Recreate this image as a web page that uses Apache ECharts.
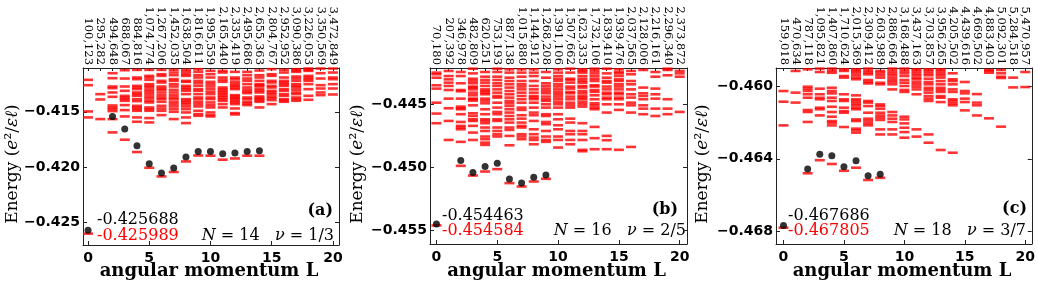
<!DOCTYPE html>
<html><head><meta charset="utf-8">
<script src="https://cdn.jsdelivr.net/npm/echarts@6/dist/echarts.min.js"></script>
<style>html,body{margin:0;padding:0;background:#fff}#c{width:1038px;height:290px}</style>
</head><body><div id="c"></div>
<script>
// ---------- DATA ----------
const L_TICKS = [0, 5, 10, 15, 20];
const L_ALL = [0,1,2,3,4,5,6,7,8,9,10,11,12,13,14,15,16,17,18,19,20];

const dimsA = ['100,123','295,282','494,648','688,067','884,816','1,074,774','1,267,206','1,452,035','1,638,504','1,816,611','1,995,559','2,165,440','2,335,419','2,495,686','2,655,363','2,804,767','2,952,952','3,090,386','3,226,053','3,350,569','3,472,849'];
const dimsB = ['70,180','207,392','346,978','482,809','620,251','753,193','887,138','1,015,880','1,144,912','1,268,208','1,391,106','1,507,662','1,623,335','1,732,106','1,839,410','1,939,476','2,037,565','2,128,006','2,216,161','2,296,340','2,373,872'];
const dimsC = ['159,018','470,634','787,118','1,095,821','1,407,860','1,710,624','2,015,369','2,309,412','2,603,989','2,886,664','3,168,488','3,437,163','3,703,857','3,956,265','4,205,502','4,439,616','4,669,502','4,883,403','5,092,301','5,284,518','5,470,957'];

const yTicksA = [-0.425, -0.420, -0.415];
const yTicksB = [-0.455, -0.450, -0.445];
const yTicksC = [-0.468, -0.464, -0.460];

// exact-diagonalization spectrum (red dashes), indexed by L
const specA = [
 [-0.41212,-0.41260,-0.41497,-0.41551,-0.425989],
 [-0.41341,-0.41389,-0.41566],
 [-0.41152,-0.41197,-0.41272,-0.41287,-0.41326,-0.41365,-0.41443,-0.41461,-0.41476,-0.41494,-0.41566,-0.41686],
 [-0.41125,-0.41200,-0.41272,-0.41311,-0.41356,-0.41371,-0.41386,-0.41401,-0.41440,-0.41485,-0.41542,-0.41752],
 [-0.41122,-0.41191,-0.41206,-0.41266,-0.41281,-0.41296,-0.41326,-0.41341,-0.41356,-0.41386,-0.41404,-0.41446,-0.41461,-0.41476,-0.41491,-0.41551,-0.41590,-0.41863],
 [-0.41122,-0.41176,-0.41191,-0.41212,-0.41251,-0.41266,-0.41281,-0.41302,-0.41320,-0.41341,-0.41362,-0.41380,-0.41401,-0.41416,-0.41461,-0.41476,-0.41491,-0.41557,-0.41596,-0.42005],
 [-0.41122,-0.41161,-0.41176,-0.41221,-0.41236,-0.41272,-0.41290,-0.41302,-0.41326,-0.41350,-0.41371,-0.41386,-0.41410,-0.41446,-0.41470,-0.41491,-0.41530,-0.42083],
 [-0.41122,-0.41146,-0.41170,-0.41206,-0.41221,-0.41251,-0.41272,-0.41302,-0.41326,-0.41350,-0.41371,-0.41386,-0.41410,-0.41431,-0.41452,-0.41476,-0.41500,-0.41566,-0.42043],
 [-0.41122,-0.41140,-0.41161,-0.41176,-0.41221,-0.41230,-0.41266,-0.41281,-0.41296,-0.41311,-0.41341,-0.41386,-0.41401,-0.41416,-0.41431,-0.41452,-0.41476,-0.41506,-0.41551,-0.41602,-0.41948],
 [-0.41116,-0.41140,-0.41170,-0.41191,-0.41221,-0.41242,-0.41266,-0.41296,-0.41311,-0.41341,-0.41371,-0.41386,-0.41410,-0.41431,-0.41452,-0.41491,-0.41521,-0.41536,-0.41894],
 [-0.41131,-0.41161,-0.41191,-0.41230,-0.41251,-0.41272,-0.41296,-0.41320,-0.41341,-0.41371,-0.41386,-0.41416,-0.41440,-0.41461,-0.41506,-0.41530,-0.41542,-0.41896],
 [-0.41131,-0.41146,-0.41191,-0.41212,-0.41230,-0.41281,-0.41296,-0.41311,-0.41326,-0.41341,-0.41356,-0.41371,-0.41386,-0.41401,-0.41431,-0.41461,-0.41932],
 [-0.41140,-0.41191,-0.41206,-0.41230,-0.41251,-0.41266,-0.41281,-0.41296,-0.41350,-0.41362,-0.41374,-0.41386,-0.41401,-0.41416,-0.41431,-0.41470,-0.41512,-0.41524,-0.41921],
 [-0.41140,-0.41170,-0.41200,-0.41221,-0.41251,-0.41281,-0.41302,-0.41320,-0.41332,-0.41371,-0.41386,-0.41410,-0.41425,-0.41440,-0.41896],
 [-0.41128,-0.41170,-0.41191,-0.41221,-0.41251,-0.41260,-0.41272,-0.41296,-0.41311,-0.41326,-0.41362,-0.41374,-0.41386,-0.41398,-0.41410,-0.41461,-0.41896],
 [-0.41116,-0.41161,-0.41176,-0.41221,-0.41236,-0.41266,-0.41281,-0.41311,-0.41326,-0.41341,-0.41362,-0.41377,-0.41395,-0.41431],
 [-0.41122,-0.41146,-0.41191,-0.41221,-0.41236,-0.41251,-0.41266,-0.41296,-0.41311,-0.41341,-0.41356,-0.41386,-0.41398,-0.41410],
 [-0.41116,-0.41128,-0.41140,-0.41182,-0.41200,-0.41221,-0.41251,-0.41266,-0.41281,-0.41302,-0.41326,-0.41341,-0.41371,-0.41386,-0.41401],
 [-0.41110,-0.41122,-0.41131,-0.41176,-0.41191,-0.41206,-0.41221,-0.41251,-0.41296,-0.41356,-0.41392],
 [-0.41110,-0.41152,-0.41200,-0.41260,-0.41290,-0.41326,-0.41350],
 [-0.41110,-0.41146,-0.41191,-0.41206,-0.41251,-0.41290,-0.41344]
];
const specB = [
 [-0.44253,-0.44266,-0.44293,-0.44353,-0.44379,-0.44490,-0.44576,-0.44652,-0.454584],
 [-0.44240,-0.44280,-0.44306,-0.44332,-0.44358,-0.44390,-0.44458,-0.44534,-0.44634,-0.44784],
 [-0.44248,-0.44280,-0.44337,-0.44390,-0.44400,-0.44458,-0.44521,-0.44534,-0.44542,-0.44581,-0.44642,-0.44673,-0.44686,-0.44700,-0.44799,-0.449882],
 [-0.44222,-0.44259,-0.44301,-0.44319,-0.44337,-0.44363,-0.44371,-0.44385,-0.44411,-0.44432,-0.44458,-0.44463,-0.44474,-0.44511,-0.44574,-0.44595,-0.44621,-0.44634,-0.44673,-0.44726,-0.44784,-0.450646],
 [-0.44248,-0.44285,-0.44311,-0.44332,-0.44358,-0.44385,-0.44398,-0.44411,-0.44424,-0.44458,-0.44474,-0.44495,-0.44542,-0.44581,-0.44621,-0.44634,-0.44652,-0.44686,-0.44713,-0.44757,-0.44778,-0.44805,-0.44823,-0.450331],
 [-0.44222,-0.44248,-0.44285,-0.44311,-0.44337,-0.44358,-0.44385,-0.44411,-0.44437,-0.44450,-0.44490,-0.44529,-0.44563,-0.44581,-0.44621,-0.44634,-0.44686,-0.44713,-0.44739,-0.44757,-0.450142],
 [-0.44227,-0.44253,-0.44293,-0.44319,-0.44345,-0.44371,-0.44398,-0.44424,-0.44450,-0.44476,-0.44495,-0.44516,-0.44542,-0.44568,-0.44595,-0.44621,-0.44647,-0.44686,-0.44705,-0.44752,-0.44826,-0.451244],
 [-0.44227,-0.44253,-0.44285,-0.44319,-0.44345,-0.44363,-0.44385,-0.44411,-0.44437,-0.44463,-0.44490,-0.44529,-0.44547,-0.44589,-0.44616,-0.44647,-0.44673,-0.44686,-0.44739,-0.44757,-0.44778,-0.451512],
 [-0.44227,-0.44253,-0.44280,-0.44319,-0.44358,-0.44385,-0.44411,-0.44437,-0.44450,-0.44463,-0.44490,-0.44529,-0.44568,-0.44589,-0.44634,-0.44700,-0.44739,-0.44765,-0.44784,-0.44818,-0.451118],
 [-0.44248,-0.44293,-0.44337,-0.44358,-0.44379,-0.44398,-0.44416,-0.44442,-0.44463,-0.44476,-0.44503,-0.44529,-0.44581,-0.44595,-0.44642,-0.44660,-0.44713,-0.44757,-0.44784,-0.44799,-0.450906],
 [-0.44227,-0.44253,-0.44280,-0.44301,-0.44319,-0.44345,-0.44363,-0.44385,-0.44405,-0.44424,-0.44442,-0.44463,-0.44484,-0.44503,-0.44529,-0.44581,-0.44621,-0.44668,-0.44700,-0.44757,-0.44784,-0.44844],
 [-0.44222,-0.44253,-0.44301,-0.44311,-0.44332,-0.44363,-0.44379,-0.44405,-0.44416,-0.44442,-0.44463,-0.44490,-0.44511,-0.44529,-0.44616,-0.44647,-0.44713,-0.44739,-0.44784,-0.44818],
 [-0.44227,-0.44240,-0.44253,-0.44280,-0.44301,-0.44319,-0.44332,-0.44358,-0.44371,-0.44398,-0.44416,-0.44437,-0.44450,-0.44463,-0.44484,-0.44503,-0.44521,-0.44652,-0.44713,-0.44739,-0.44784,-0.44862,-0.44873],
 [-0.44222,-0.44240,-0.44259,-0.44280,-0.44301,-0.44319,-0.44353,-0.44363,-0.44390,-0.44405,-0.44432,-0.44463,-0.44495,-0.44511,-0.44529,-0.44542,-0.44681,-0.44770,-0.44857],
 [-0.44222,-0.44259,-0.44293,-0.44319,-0.44332,-0.44363,-0.44385,-0.44411,-0.44424,-0.44450,-0.44463,-0.44503,-0.44568,-0.44752,-0.44786,-0.44857],
 [-0.44227,-0.44248,-0.44259,-0.44280,-0.44306,-0.44319,-0.44345,-0.44363,-0.44385,-0.44411,-0.44424,-0.44450,-0.44463,-0.44503,-0.44547,-0.44862],
 [-0.44240,-0.44266,-0.44319,-0.44345,-0.44385,-0.44424,-0.44450,-0.44490,-0.44511,-0.44568,-0.44839],
 [-0.44232,-0.44371,-0.44416,-0.44437,-0.44463,-0.44511,-0.44537,-0.44581],
 [-0.44248,-0.44285,-0.44379,-0.44424,-0.44458,-0.44537,-0.44595],
 [-0.44222,-0.44232,-0.44274,-0.44463,-0.44537,-0.44581],
 [-0.44240,-0.44259,-0.44285,-0.44563]
];
const specC = [
 [-0.46025,-0.46084,-0.46215,-0.467805],
 [-0.45914,-0.46034,-0.46089],
 [-0.45905,-0.46001,-0.46012,-0.46025,-0.46043,-0.46062,-0.46130,-0.46141,-0.46196,-0.464798],
 [-0.45901,-0.45920,-0.46012,-0.46043,-0.46062,-0.46071,-0.46117,-0.46126,-0.46160,-0.464074],
 [-0.45901,-0.45914,-0.45924,-0.46007,-0.46025,-0.46038,-0.46062,-0.46080,-0.46112,-0.46141,-0.46167,-0.46191,-0.46200,-0.46215,-0.464284],
 [-0.45896,-0.45905,-0.45914,-0.45942,-0.45951,-0.46043,-0.46071,-0.46080,-0.46117,-0.46136,-0.46145,-0.46224,-0.464660],
 [-0.45896,-0.45905,-0.45914,-0.45924,-0.45938,-0.45951,-0.45960,-0.46049,-0.46071,-0.46080,-0.46093,-0.46104,-0.46117,-0.46126,-0.46182,-0.46191,-0.46233,-0.46242,-0.46255,-0.464489],
 [-0.45901,-0.45914,-0.45924,-0.45933,-0.45964,-0.45975,-0.45983,-0.46080,-0.46089,-0.46108,-0.46145,-0.46178,-0.46191,-0.46204,-0.46215,-0.465169],
 [-0.45896,-0.45914,-0.45924,-0.45938,-0.45951,-0.45979,-0.45988,-0.46099,-0.46108,-0.46123,-0.46145,-0.46160,-0.46172,-0.46185,-0.46237,-0.46265,-0.465047],
 [-0.45901,-0.45914,-0.45927,-0.45938,-0.45951,-0.45964,-0.45975,-0.45988,-0.46016,-0.46141,-0.46160,-0.46178,-0.46196,-0.46237,-0.46265],
 [-0.45901,-0.45914,-0.45927,-0.45942,-0.45964,-0.45979,-0.45997,-0.46019,-0.46030,-0.46167,-0.46182,-0.46204,-0.46228,-0.46252,-0.46283],
 [-0.45905,-0.45914,-0.45927,-0.45938,-0.45951,-0.45960,-0.45975,-0.45988,-0.46001,-0.46016,-0.46043,-0.46237,-0.46277],
 [-0.45905,-0.45914,-0.45927,-0.45938,-0.45957,-0.45975,-0.45988,-0.46007,-0.46019,-0.46034,-0.46053,-0.46067,-0.46080,-0.46265,-0.463107],
 [-0.45905,-0.45914,-0.45927,-0.45938,-0.45951,-0.45970,-0.45988,-0.46007,-0.46019,-0.46030,-0.46053,-0.46062,-0.46086,-0.46351],
 [-0.45927,-0.45960,-0.45970,-0.45988,-0.46016,-0.46030,-0.46071,-0.46080,-0.46093,-0.46104,-0.46366],
 [-0.45975,-0.46025,-0.46038,-0.46067,-0.46086,-0.46132],
 [-0.45896,-0.46042,-0.46089,-0.46104,-0.46160],
 [-0.45909,-0.45914,-0.45924,-0.46176],
 [-0.45909,-0.45927,-0.45946,-0.45953,-0.46222],
 [-0.45951,-0.46005],
 [-0.45896,-0.45920,-0.46003]
];

// composite-fermion energies (black dots): [L, E]
const cfA = [[0,-0.425688],[2,-0.41542],[3,-0.41656],[4,-0.41806],[5,-0.41969],[6,-0.42052],[7,-0.42007],[8,-0.41908],[9,-0.41858],[10,-0.41858],[11,-0.41878],[12,-0.41872],[13,-0.41858],[14,-0.41851]];
const cfB = [[0,-0.454463],[2,-0.449465],[3,-0.450409],[4,-0.449937],[5,-0.449685],[6,-0.450929],[7,-0.451244],[8,-0.450787],[9,-0.450606]];
const cfC = [[0,-0.467686],[2,-0.464555],[3,-0.463748],[4,-0.463831],[5,-0.464433],[6,-0.464102],[7,-0.464936],[8,-0.464848]];

const cfLabels = ['-0.425688','-0.454463','-0.467686'];
const edLabels = ['-0.425989','-0.454584','-0.467805'];
const nLabels = ['14','16','18'];
const nuLabels = ['1/3','2/5','3/7'];
const panelTags = ['(a)','(b)','(c)'];

// ---------- LAYOUT ----------
const panels = [
  {grid:{left:83, top:68, width:256, height:177}, xmin:-0.41, xmax:20.5, ymin:-0.427014, ymax:-0.411052,
   dims:dimsA, yt:yTicksA, spec:specA, cf:cfA, ylabX:13, annX:97, annY1:219.5, annY2:235.5, nRight:334, tagY:210.5, tagRight:333},
  {grid:{left:430, top:68, width:257, height:176}, xmin:-0.53, xmax:20.6, ymin:-0.456047, ymax:-0.442165,
   dims:dimsB, yt:yTicksB, spec:specB, cf:cfB, ylabX:358, annX:442, annY1:215.5, annY2:231, nRight:686, tagY:209.5, tagRight:678},
  {grid:{left:776, top:68, width:256, height:176}, xmin:-0.62, xmax:20.54, ymin:-0.468708, ymax:-0.458977,
   dims:dimsC, yt:yTicksC, spec:specC, cf:cfC, ylabX:703, annX:788, annY1:216, annY2:231, nRight:1026, tagY:208.5, tagRight:1027}
];

const AX = '#222';
const tickFont = {fontFamily:'DejaVu Sans', fontWeight:'bold', fontSize:14, color:'#000'};
const grids = [], xAxes = [], yAxes = [], series = [], graphics = [];

panels.forEach((p, i) => {
  grids.push(p.grid);
  xAxes.push({gridIndex:i, type:'value', position:'bottom', min:p.xmin, max:p.xmax,
    axisLine:{show:true, onZero:false, lineStyle:{color:AX, width:1}},
    axisTick:{show:true, inside:true, length:4, customValues:L_TICKS, lineStyle:{color:AX}},
    axisLabel:Object.assign({customValues:L_TICKS, margin:6}, tickFont),
    splitLine:{show:false}});
  xAxes.push({gridIndex:i, type:'value', position:'top', min:p.xmin, max:p.xmax,
    axisLine:{show:true, onZero:false, lineStyle:{color:AX, width:1}},
    axisTick:{show:true, inside:true, length:3, customValues:L_ALL, lineStyle:{color:AX}},
    axisLabel:{customValues:L_ALL, rotate:90, margin:3, fontFamily:'DejaVu Serif', fontSize:11.5, color:'#000',
      formatter:(v) => p.dims[Math.round(v)]},
    splitLine:{show:false}});
  yAxes.push({gridIndex:i, type:'value', position:'left', min:p.ymin, max:p.ymax,
    axisLine:{show:true, onZero:false, lineStyle:{color:AX, width:1}},
    axisTick:{show:true, inside:true, length:4, customValues:p.yt, lineStyle:{color:AX}},
    axisLabel:Object.assign({customValues:p.yt, margin:3, formatter:(v) => '\u2212' + Math.abs(v).toFixed(3)}, tickFont),
    splitLine:{show:false}});
  yAxes.push({gridIndex:i, type:'value', position:'right', min:p.ymin, max:p.ymax,
    axisLine:{show:true, onZero:false, lineStyle:{color:AX, width:1}},
    axisTick:{show:true, inside:true, length:4, customValues:p.yt, lineStyle:{color:AX}},
    axisLabel:{show:false}, splitLine:{show:false}});

  const dashes = [];
  p.spec.forEach((arr, L) => arr.forEach(e => dashes.push([L, e])));
  series.push({type:'scatter', xAxisIndex:2*i, yAxisIndex:2*i, data:dashes, symbol:'rect', symbolSize:[10,2.6],
    itemStyle:{color:'#ff0000'}, silent:true, animation:false, z:2});
  series.push({type:'scatter', xAxisIndex:2*i, yAxisIndex:2*i, data:p.cf, symbol:'circle', symbolSize:7,
    itemStyle:{color:'#000'}, silent:true, animation:false, z:3});

  const serif = '"DejaVu Serif"';
  graphics.push({type:'text', x:p.ylabX, y:164, rotation:Math.PI/2, silent:true,
    style:{text:'{r|Energy (}{i|e}{r|\u00b2/}{i|\u03b5\u2113}{r|)}', align:'center', verticalAlign:'middle',
      rich:{r:{fontFamily:'DejaVu Serif', fontSize:17, fill:'#000'}, i:{fontFamily:'DejaVu Serif', fontStyle:'italic', fontSize:17, fill:'#000'}}}});
  const cx = p.grid.left + p.grid.width/2 - 2;
  graphics.push({type:'text', x:cx, y:271, silent:true,
    style:{text:'angular momentum L', font:'bold 18px ' + serif, fill:'#000', align:'center', verticalAlign:'middle'}});
  graphics.push({type:'text', x:p.annX, y:p.annY1, silent:true,
    style:{text:cfLabels[i], font:'16px ' + serif, fill:'#000', align:'left', verticalAlign:'middle'}});
  graphics.push({type:'text', x:p.annX, y:p.annY2, silent:true,
    style:{text:edLabels[i], font:'16px ' + serif, fill:'#ff0000', align:'left', verticalAlign:'middle'}});
  graphics.push({type:'text', x:p.nRight, y:p.annY2, silent:true,
    style:{text:'{i|N}{r| = ' + nLabels[i] + '   }{i|\u03bd}{r| = ' + nuLabels[i] + '}', align:'right', verticalAlign:'middle',
      rich:{r:{fontFamily:'DejaVu Serif', fontSize:16, fill:'#000'}, i:{fontFamily:'DejaVu Serif', fontStyle:'italic', fontSize:16, fill:'#000'}}}});
  graphics.push({type:'text', x:p.tagRight, y:p.tagY, silent:true,
    style:{text:panelTags[i], font:'bold 16px ' + serif, fill:'#000', align:'right', verticalAlign:'middle'}});
});

const chart = echarts.init(document.getElementById('c'), null, {renderer:'canvas'});
chart.setOption({
  animation:false,
  backgroundColor:'#fff',
  grid:grids, xAxis:xAxes, yAxis:yAxes, series:series, graphic:graphics
});
</script></body></html>
